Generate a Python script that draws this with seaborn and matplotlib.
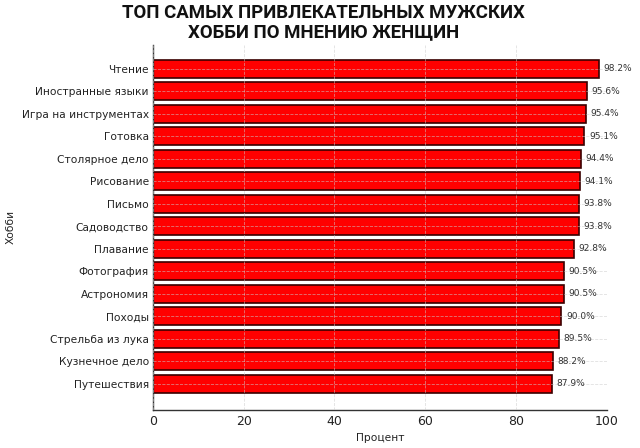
import matplotlib
matplotlib.use("Agg")
import matplotlib.pyplot as plt
import seaborn as sns
import pandas as pd

hobbies = ["Чтение", "Иностранные языки", "Игра на инструментах", "Готовка",
           "Столярное дело", "Рисование", "Письмо", "Садоводство", "Плавание",
           "Фотография", "Астрономия", "Походы", "Стрельба из лука",
           "Кузнечное дело", "Путешествия"]
values = [98.2, 95.6, 95.4, 95.1, 94.4, 94.1, 93.8, 93.8, 92.8,
          90.5, 90.5, 90.0, 89.5, 88.2, 87.9]

df = pd.DataFrame({"Хобби": hobbies, "Процент": values})

sns.set_style("white")
plt.rcParams['font.family'] = ['DejaVu Sans']

fig = plt.figure(figsize=(6.4, 4.48), dpi=100)
ax = fig.add_axes([0.239, 0.085, 0.709, 0.815])

sns.barplot(data=df, x="Процент", y="Хобби", color="#ff0000", saturation=1,
            edgecolor="#3a0000", linewidth=1.2, width=0.8, ax=ax, zorder=2)

for i, v in enumerate(values):
    ax.text(v + 1, i, f"{v}%", va="center", ha="left", fontsize=6.5, color="#333333", zorder=4)

ax.set_xlim(0, 100)
ax.set_ylim(14 + 1.16, -1.07)
ax.set_xticks([0, 20, 40, 60, 80, 100])
ax.grid(True, axis="both", linestyle="--", color="#cccccc", linewidth=0.6, alpha=0.6, zorder=3)
ax.set_axisbelow(False)
for s in ["top", "right"]:
    ax.spines[s].set_visible(False)
for s in ["left", "bottom"]:
    ax.spines[s].set_color("#333333")
    ax.spines[s].set_linewidth(1.0)
ax.tick_params(axis="x", labelsize=9, colors="#222222", length=3, direction="in")
ax.tick_params(axis="y", labelsize=7.7, colors="#222222", length=0, pad=3)
ax.set_xlabel("Процент", fontsize=7.7, color="#222222")
ax.set_ylabel("Хобби", fontsize=7.7, color="#222222")

fig.text(0.505, 0.99, "ТОП САМЫХ ПРИВЛЕКАТЕЛЬНЫХ МУЖСКИХ\nХОББИ ПО МНЕНИЮ ЖЕНЩИН",
         ha="center", va="top", fontsize=13.4, fontweight="bold",
         family=["Liberation Sans Narrow", "Roboto"],
         linespacing=1.05, color="#111111")

fig.savefig("out.png", dpi=100)
